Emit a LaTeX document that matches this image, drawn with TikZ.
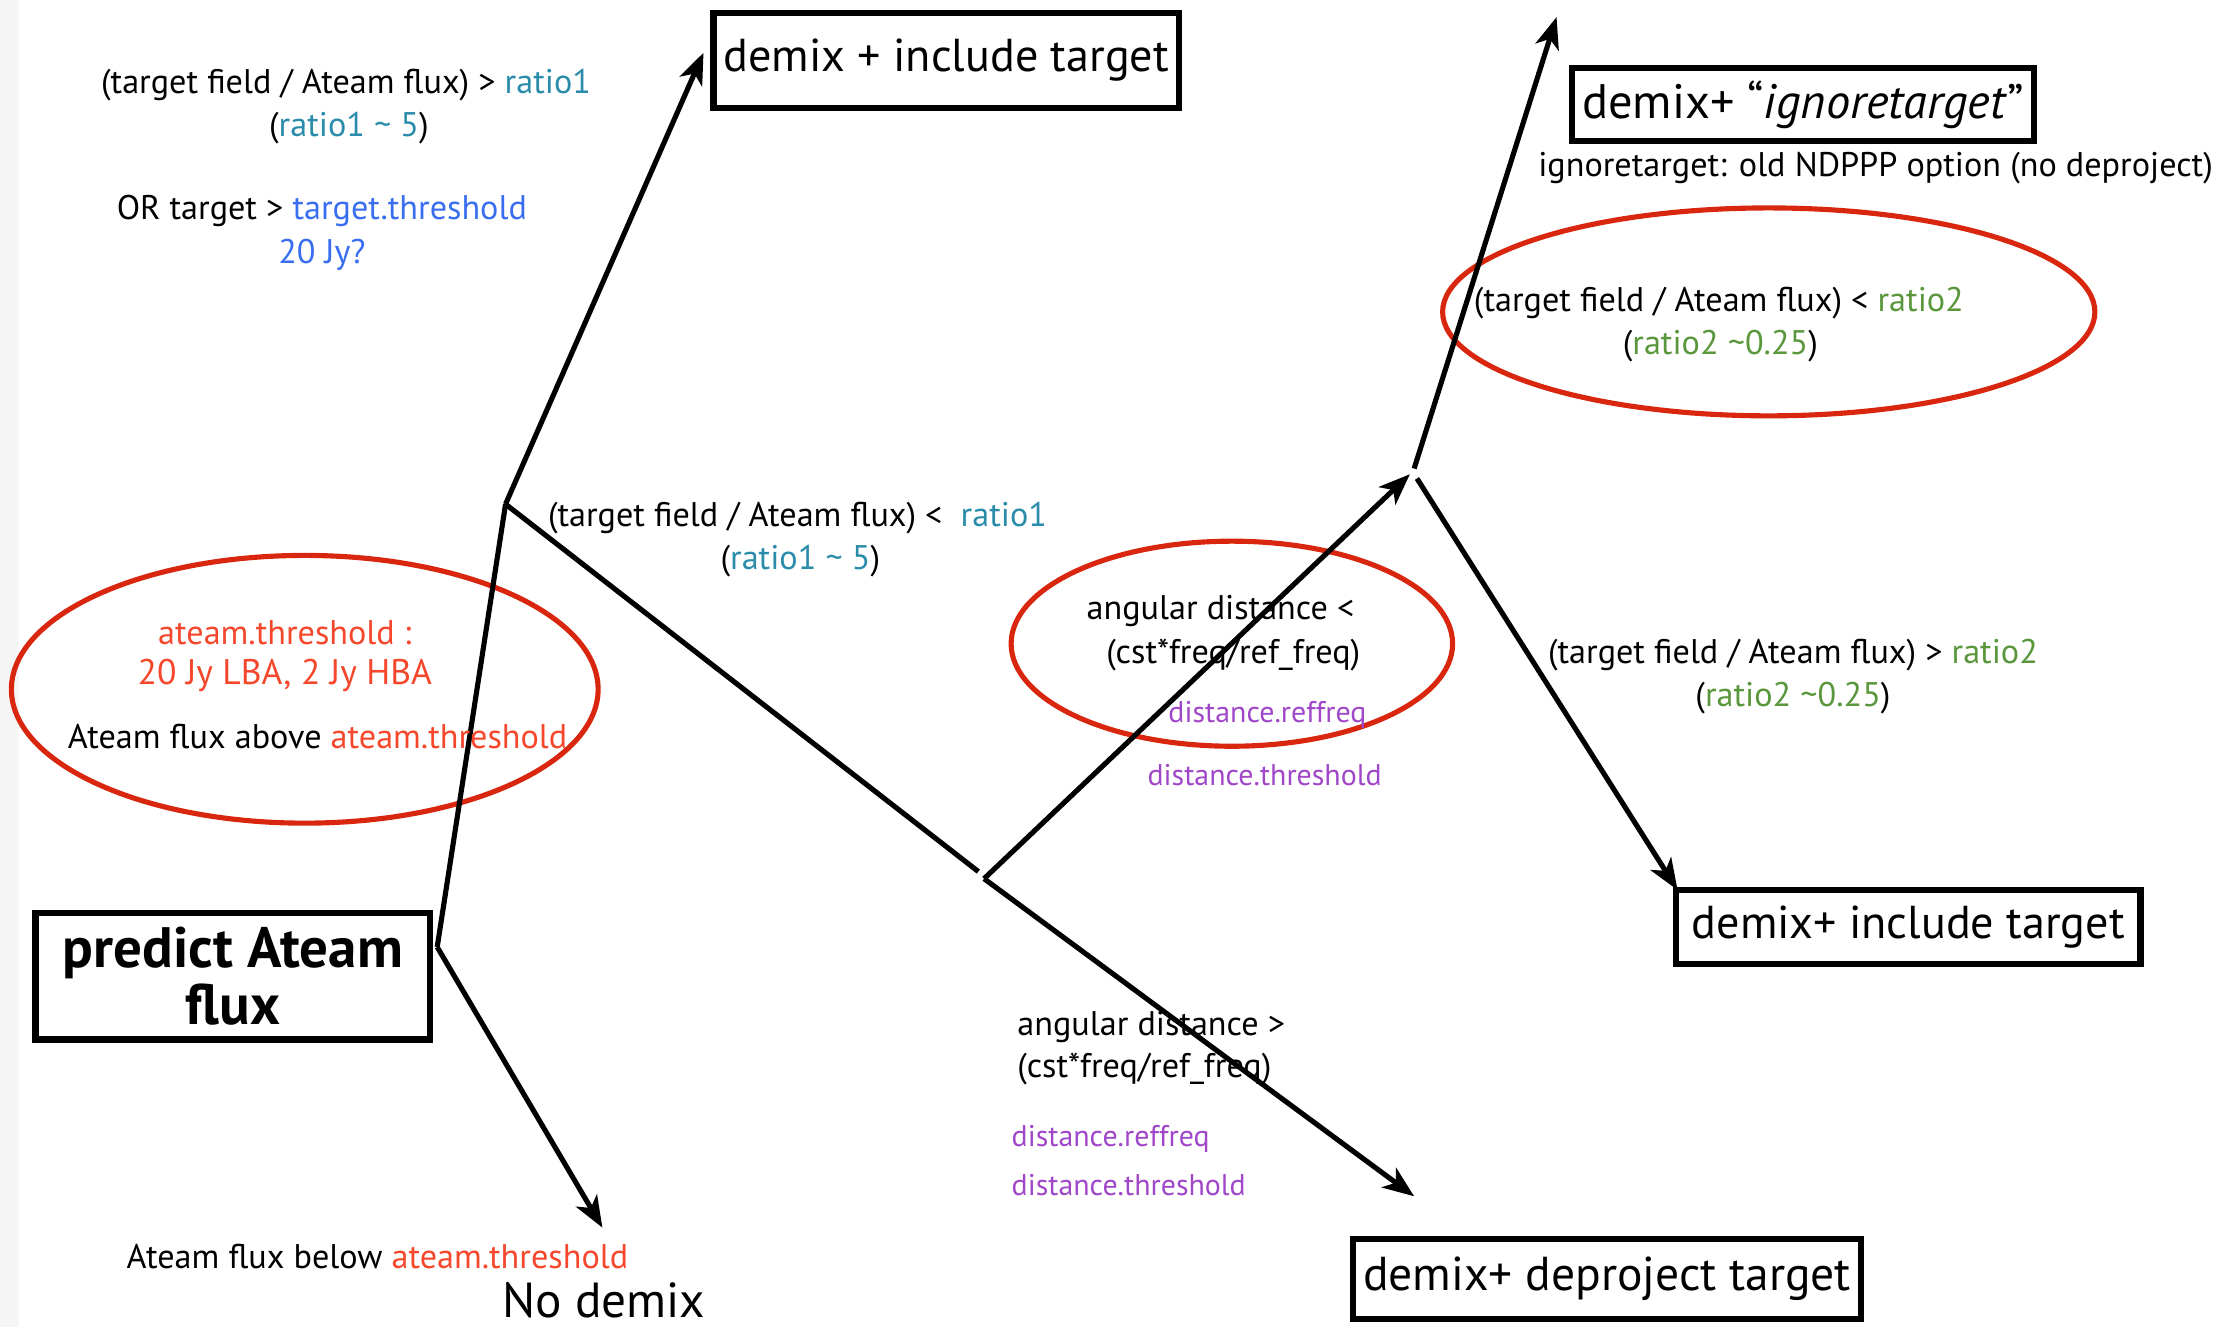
\documentclass[tikz,border=0pt]{standalone}
\usepackage{fontspec}
\setmainfont{PT Sans}
\usetikzlibrary{arrows.meta}
\definecolor{ellred}{HTML}{D9260F}
\definecolor{txred}{HTML}{F5472C}
\definecolor{rteal}{HTML}{2A8CAA}
\definecolor{rblue}{HTML}{3A6EF0}
\definecolor{rgreen}{HTML}{5A963C}
\definecolor{rpurple}{HTML}{A046C8}
\tikzset{
  boxnode/.style={draw=black,line width=2.2pt,inner sep=0pt,align=center},
  small/.style={inner sep=0pt,align=center,font=\fontsize{12pt}{14pt}\selectfont},
  smallL/.style={inner sep=0pt,anchor=west,font=\fontsize{12pt}{14pt}\selectfont},
  purp/.style={text=rpurple,font=\fontsize{10.5pt}{12pt}\selectfont},
  conn/.style={line width=1.8pt,black},
  arr/.style={conn,-{Stealth[length=11pt,width=8.5pt,inset=3pt]}},
  redell/.style={draw=ellred,line width=1.8pt},
}
\begin{document}
\begin{tikzpicture}[x=0.5pt,y=-0.5pt]
\useasboundingbox (0,0) rectangle (1568,932);
\fill[gray!8] (0,0) rectangle (13,932);

% ellipses
\draw[redell] (214,484) ellipse [x radius=206,y radius=94];
\draw[redell] (865,452) ellipse [x radius=155,y radius=72];
\draw[redell] (1242,219) ellipse [x radius=229,y radius=73];

% boxes
\node[boxnode,minimum width=163.5pt,minimum height=33.5pt,font=\fontsize{16.2pt}{19pt}\selectfont] (b1) at (664.5,42.5) {demix + include target};
\node[boxnode,minimum width=162pt,minimum height=25.5pt,font=\fontsize{17pt}{20pt}\selectfont] (b2) at (1266,73.5) {demix+ “\textit{ignoretarget}”};
\node[boxnode,minimum width=138.5pt,minimum height=44.5pt,font=\fontsize{20pt}{20pt}\selectfont\bfseries] (b3) at (163.5,685.5) {predict Ateam\\flux};
\node[boxnode,minimum width=163pt,minimum height=26pt,font=\fontsize{16.2pt}{19pt}\selectfont] (b4) at (1340,651) {demix+ include target};
\node[boxnode,minimum width=178.5pt,minimum height=28pt,font=\fontsize{16.7pt}{19pt}\selectfont] (b5) at (1128.5,898) {demix+ deproject target};

% junction coordinates
\coordinate (p0) at (307,665);
\coordinate (j1) at (355,354);
\coordinate (j2a) at (687,612);
\coordinate (j2) at (691,617);
\coordinate (j3) at (993,329);
\coordinate (j3b) at (995,336);
\coordinate (t1) at (494,37);
\coordinate (t3) at (990,333);
\coordinate (t4) at (993,840);
\coordinate (t5) at (1093,12);
\coordinate (t6) at (1178,625);
\coordinate (t7) at (423,862);

% connectors
\draw[conn] (p0) -- (j1);
\draw[arr] (j1) -- (t1);
\draw[conn] (j1) -- (j2a);
\draw[arr] (j2) -- (t3);
\draw[arr] (j2) -- (t4);
\draw[arr] (j3) -- (t5);
\draw[arr] (j3b) -- (t6);
\draw[arr] (p0) -- (t7);

% texts
\node[small] (l1) at (243,60) {(target field / Ateam flux) > \textcolor{rteal}{ratio1}};
\node[small] (l2) at (245,90) {(\textcolor{rteal}{ratio1 \textasciitilde{} 5})};
\node[small] (l3) at (226,148) {OR target > \textcolor{rblue}{target.threshold}};
\node[small,text=rblue] (l4) at (226,179) {20 Jy?};
\node[small] (l5) at (560,364) {(target field / Ateam flux) <\ \ \textcolor{rteal}{ratio1}};
\node[small] (l6) at (562,394) {(\textcolor{rteal}{ratio1 \textasciitilde{} 5})};
\node[small,text=txred] (l7) at (200,444) {ateam.threshold :};
\node[small,text=txred,font=\fontsize{12.5pt}{15pt}\selectfont] (l8) at (200,474) {20 Jy LBA, 2 Jy HBA};
\node[small] (l9) at (223,517) {Ateam flux above \textcolor{txred}{ateam.threshold}};
\node[small] (l10) at (857,429) {angular distance <};
\node[small] (l11) at (866,460) {(cst*freq/ref\_freq)};
\node[small,purp] (l12) at (890,502) {distance.reffreq};
\node[small,purp] (l13) at (888,544) {distance.threshold};
\node[small] (l14) at (1317,118) {ignoretarget: old NDPPP option (no deproject)};
\node[small] (l15) at (1207,213) {(target field / Ateam flux) < \textcolor{rgreen}{ratio2}};
\node[small] (l16) at (1208,243) {(\textcolor{rgreen}{ratio2 \textasciitilde0.25})};
\node[small] (l17) at (1259,460) {(target field / Ateam flux) > \textcolor{rgreen}{ratio2}};
\node[small] (l18) at (1259,490) {(\textcolor{rgreen}{ratio2 \textasciitilde0.25})};
\node[smallL] (l19) at (714,721) {angular distance >};
\node[smallL] (l20) at (714,751) {(cst*freq/ref\_freq)};
\node[smallL,purp] (l21) at (710,800) {distance.reffreq};
\node[smallL,purp] (l22) at (710,832) {distance.threshold};
\node[small] (l23) at (265,882) {Ateam flux below \textcolor{txred}{ateam.threshold}};
\node[small,font=\fontsize{17.3pt}{19pt}\selectfont] (l24) at (424,913) {No demix};
\end{tikzpicture}
\end{document}
